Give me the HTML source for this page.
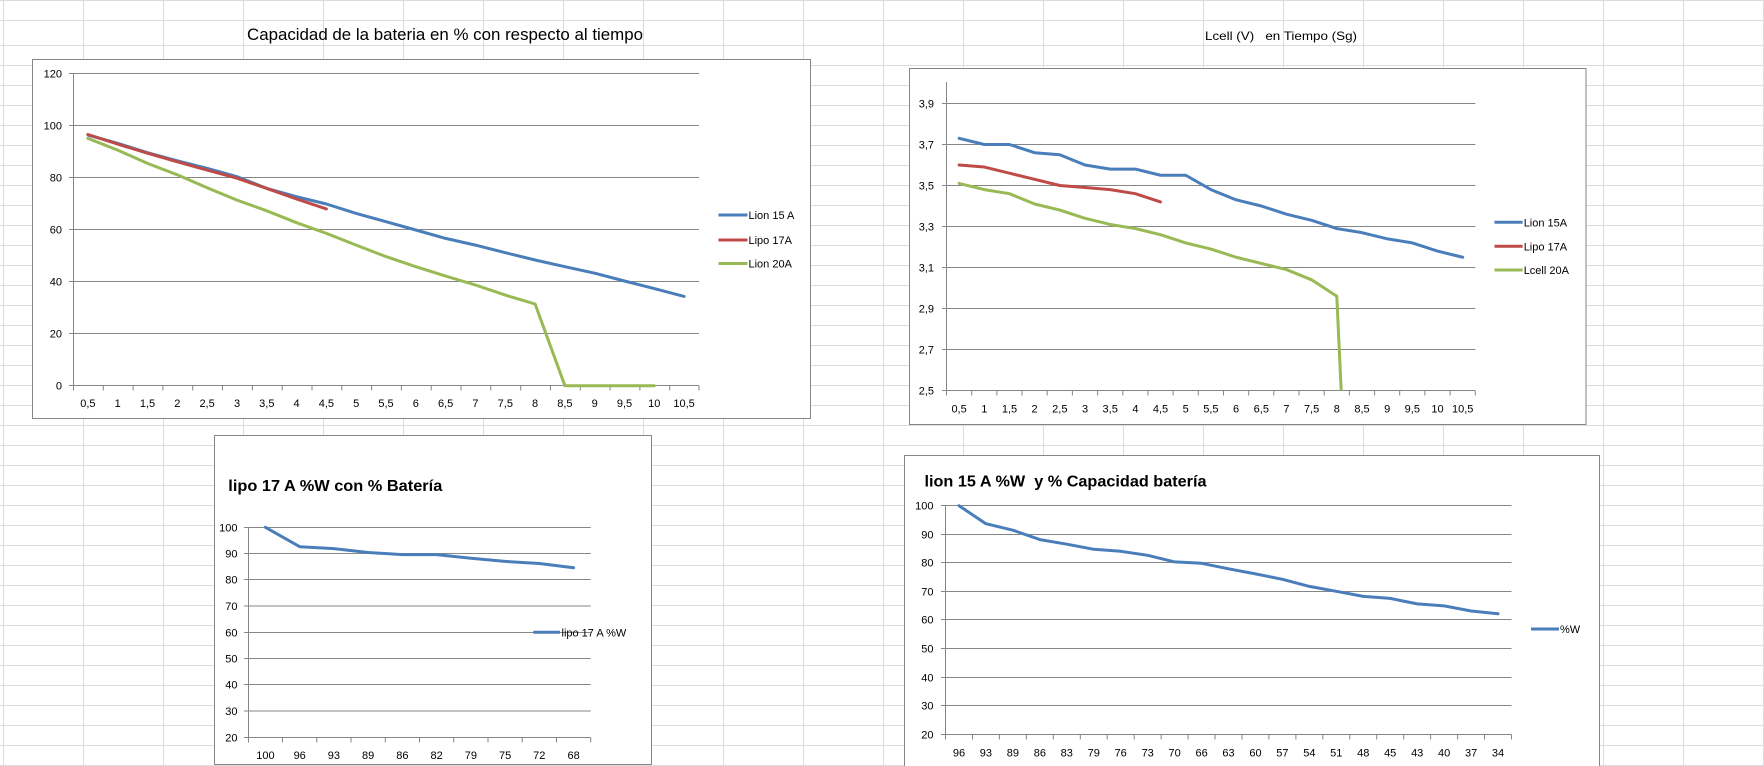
<!DOCTYPE html>
<html><head><meta charset="utf-8"><style>
html,body{margin:0;padding:0;background:#fff;}
svg{display:block;}
text{font-family:"Liberation Sans",Arial,sans-serif;fill:#000;white-space:pre;}
.g{stroke:#dadcdd;stroke-width:1;}
.ax{stroke:#868686;stroke-width:1;fill:none;}
.lb{font-size:11px;}
.s{fill:none;stroke-width:3;stroke-linejoin:round;stroke-linecap:round;}
</style></head><body>
<svg width="1764" height="766" viewBox="0 0 1764 766" xmlns="http://www.w3.org/2000/svg">
<rect width="1764" height="766" fill="#fff"/>
<!-- excel grid -->
<g class="g">
<path d="M3.5 0V766M83.5 0V766M163.5 0V766M243.5 0V766M323.5 0V766M403.5 0V766M483.5 0V766M563.5 0V766M643.5 0V766M723.5 0V766M803.5 0V766M883.5 0V766M963.5 0V766M1043.5 0V766M1123.5 0V766M1203.5 0V766M1283.5 0V766M1363.5 0V766M1443.5 0V766M1523.5 0V766M1603.5 0V766M1683.5 0V766M1763.5 0V766"/>
<path d="M0 0.5H1764M0 20.5H1764M0 45.5H1764M0 65.5H1764M0 85.5H1764M0 105.5H1764M0 125.5H1764M0 145.5H1764M0 165.5H1764M0 185.5H1764M0 205.5H1764M0 225.5H1764M0 245.5H1764M0 265.5H1764M0 285.5H1764M0 305.5H1764M0 325.5H1764M0 345.5H1764M0 365.5H1764M0 385.5H1764M0 405.5H1764M0 425.5H1764M0 445.5H1764M0 465.5H1764M0 485.5H1764M0 505.5H1764M0 525.5H1764M0 545.5H1764M0 565.5H1764M0 585.5H1764M0 605.5H1764M0 625.5H1764M0 645.5H1764M0 665.5H1764M0 685.5H1764M0 705.5H1764M0 725.5H1764M0 745.5H1764M0 765.5H1764"/>
</g>

<!-- titles above charts 1 and 2 -->
<text x="247" y="40" font-size="17" textLength="396" lengthAdjust="spacingAndGlyphs">Capacidad de la bateria en % con respecto al tiempo</text>
<text x="1205" y="40" font-size="12" textLength="152" lengthAdjust="spacingAndGlyphs">Lcell (V)   en Tiempo (Sg)</text>

<!-- ============ CHART 1 ============ -->
<rect x="32.5" y="59.5" width="778" height="359" fill="#fff" stroke="#868686"/>
<g class="ax">
<path d="M69 73.5H699M69 125.5H699M69 177.5H699M69 229.5H699M69 281.5H699M69 333.5H699M69 385.5H699"/>
<path d="M73.5 73.5V385.5"/>
<path d="M73.5 385.5v5M103.3 385.5v5M133.1 385.5v5M162.9 385.5v5M192.7 385.5v5M222.5 385.5v5M252.4 385.5v5M282.2 385.5v5M312 385.5v5M341.8 385.5v5M371.6 385.5v5M401.4 385.5v5M431.2 385.5v5M461 385.5v5M490.8 385.5v5M520.7 385.5v5M550.5 385.5v5M580.3 385.5v5M610.1 385.5v5M639.9 385.5v5M669.7 385.5v5M699 385.5v5"/>
</g>
<g class="lb" text-anchor="end">
<text x="62" y="77.5">120</text><text x="62" y="129.5">100</text><text x="62" y="181.5">80</text><text x="62" y="233.5">60</text><text x="62" y="285.5">40</text><text x="62" y="337.5">20</text><text x="62" y="389.5">0</text>
</g>
<g class="lb" text-anchor="middle">
<text x="87.9" y="407">0,5</text><text x="117.7" y="407">1</text><text x="147.5" y="407">1,5</text><text x="177.3" y="407">2</text><text x="207.1" y="407">2,5</text><text x="237" y="407">3</text><text x="266.8" y="407">3,5</text><text x="296.6" y="407">4</text><text x="326.4" y="407">4,5</text><text x="356.2" y="407">5</text><text x="386" y="407">5,5</text><text x="415.8" y="407">6</text><text x="445.6" y="407">6,5</text><text x="475.4" y="407">7</text><text x="505.3" y="407">7,5</text><text x="535.1" y="407">8</text><text x="564.9" y="407">8,5</text><text x="594.7" y="407">9</text><text x="624.5" y="407">9,5</text><text x="654.3" y="407">10</text><text x="684.1" y="407">10,5</text>
</g>
<polyline class="s" stroke="#98b954" points="87.9,138.4 117.7,150.1 147.5,163.4 177.3,174.8 207.1,187.8 237,200.1 266.8,210.8 296.6,222.7 326.4,233.4 356.2,245.1 386,256.6 415.8,266.7 445.6,276.1 475.4,285 505.3,295.1 535.1,304 564.9,385.7 594.7,385.7 624.5,385.7 654.3,385.7"/>
<polyline class="s" stroke="#4a7ebb" points="87.9,135 117.7,143.3 147.5,152.7 177.3,160.8 207.1,168.3 237,176.7 266.8,188.4 296.6,196.7 326.4,204 356.2,213.4 386,221.7 415.8,230 445.6,238.4 475.4,245.1 505.3,252.7 535.1,260 564.9,266.7 594.7,273.2 624.5,281 654.3,288.6 684.1,296.4"/>
<polyline class="s" stroke="#be4b48" points="87.9,134.5 117.7,144.1 147.5,153.2 177.3,161.8 207.1,170.1 237,178.2 266.8,188.4 296.6,199 326.4,208.9"/>
<!-- legend 1 -->
<path d="M718.5 215H747.5" stroke="#4a7ebb" stroke-width="3"/>
<path d="M718.5 240H747.5" stroke="#be4b48" stroke-width="3"/>
<path d="M718.5 263.5H747.5" stroke="#98b954" stroke-width="3"/>
<g class="lb"><text x="748.5" y="219">Lion 15 A</text><text x="748.5" y="244">Lipo 17A</text><text x="748.5" y="267.5">Lion 20A</text></g>

<!-- ============ CHART 2 ============ -->
<rect x="909.5" y="68.5" width="676.5" height="356" fill="#fff" stroke="#868686"/>
<defs><clipPath id="c2"><rect x="940" y="70" width="540" height="320.5"/></clipPath></defs>
<g class="ax">
<path d="M942 103.5H1475.3M942 144.5H1475.3M942 185.5H1475.3M942 226.5H1475.3M942 267.5H1475.3M942 308.5H1475.3M942 349.5H1475.3M942 390.5H1475.3"/>
<path d="M946.5 82V390.5"/>
<path d="M946.5 390.5v5M971.7 390.5v5M996.9 390.5v5M1022 390.5v5M1047.2 390.5v5M1072.4 390.5v5M1097.6 390.5v5M1122.8 390.5v5M1147.9 390.5v5M1173.1 390.5v5M1198.3 390.5v5M1223.5 390.5v5M1248.7 390.5v5M1273.8 390.5v5M1299 390.5v5M1324.2 390.5v5M1349.4 390.5v5M1374.6 390.5v5M1399.7 390.5v5M1424.9 390.5v5M1450.1 390.5v5M1475.3 390.5v5"/>
</g>
<g class="lb" text-anchor="end">
<text x="934" y="107.5">3,9</text><text x="934" y="148.5">3,7</text><text x="934" y="189.5">3,5</text><text x="934" y="230.5">3,3</text><text x="934" y="271.5">3,1</text><text x="934" y="312.5">2,9</text><text x="934" y="353.5">2,7</text><text x="934" y="394.5">2,5</text>
</g>
<g class="lb" text-anchor="middle">
<text x="959.1" y="412.5">0,5</text><text x="984.3" y="412.5">1</text><text x="1009.5" y="412.5">1,5</text><text x="1034.6" y="412.5">2</text><text x="1059.8" y="412.5">2,5</text><text x="1085" y="412.5">3</text><text x="1110.2" y="412.5">3,5</text><text x="1135.4" y="412.5">4</text><text x="1160.5" y="412.5">4,5</text><text x="1185.7" y="412.5">5</text><text x="1210.9" y="412.5">5,5</text><text x="1236.1" y="412.5">6</text><text x="1261.3" y="412.5">6,5</text><text x="1286.4" y="412.5">7</text><text x="1311.6" y="412.5">7,5</text><text x="1336.8" y="412.5">8</text><text x="1362" y="412.5">8,5</text><text x="1387.2" y="412.5">9</text><text x="1412.3" y="412.5">9,5</text><text x="1437.5" y="412.5">10</text><text x="1462.7" y="412.5">10,5</text>
</g>
<g clip-path="url(#c2)">
<polyline class="s" stroke="#98b954" points="959.1,183.45 984.3,189.6 1009.5,193.7 1034.6,204 1059.8,210.1 1085,218.3 1110.2,224.45 1135.4,228.55 1160.5,234.7 1185.7,242.9 1210.9,249.05 1236.1,257.25 1261.3,263.4 1286.4,269.55 1311.6,279.8 1336.8,296.2 1341.6,400"/>
</g>
<polyline class="s" stroke="#4a7ebb" points="959.1,138.3 984.3,144.5 1009.5,144.5 1034.6,152.7 1059.8,154.75 1085,165 1110.2,169.1 1135.4,169.1 1160.5,175.25 1185.7,175.25 1210.9,189.6 1236.1,199.85 1261.3,206 1286.4,214.2 1311.6,220.35 1336.8,228.55 1362,232.65 1387.2,238.8 1412.3,242.9 1437.5,251.1 1462.7,257.25"/>
<polyline class="s" stroke="#be4b48" points="959.1,165 984.3,167.05 1009.5,173.2 1034.6,179.35 1059.8,185.5 1085,187.55 1110.2,189.6 1135.4,193.7 1160.5,201.9"/>
<path d="M1494.5 222.3H1522.6" stroke="#4a7ebb" stroke-width="3"/>
<path d="M1494.5 246.3H1522.6" stroke="#be4b48" stroke-width="3"/>
<path d="M1494.5 270H1522.6" stroke="#98b954" stroke-width="3"/>
<g class="lb"><text x="1523.7" y="226.3">Lion 15A</text><text x="1523.7" y="250.3">Lipo 17A</text><text x="1523.7" y="274">Lcell 20A</text></g>

<!-- ============ CHART 3 ============ -->
<rect x="214.5" y="435.5" width="437" height="329" fill="#fff" stroke="#868686"/>
<text x="228.3" y="491" font-size="16" font-weight="bold" textLength="214" lengthAdjust="spacingAndGlyphs">lipo 17 A %W con % Batería</text>
<g class="ax">
<path d="M244 527.5H590.7M244 553.5H590.7M244 579.5H590.7M244 606H590.7M244 632.5H590.7M244 658.5H590.7M244 684.5H590.7M244 711H590.7M244 737.5H590.7"/>
<path d="M248.5 527.5V737.5"/>
<path d="M248.5 737.5v5M282.5 737.5v5M316.8 737.5v5M351 737.5v5M385.3 737.5v5M419.5 737.5v5M453.7 737.5v5M488 737.5v5M522.2 737.5v5M556.5 737.5v5M590.7 737.5v5"/>
</g>
<g class="lb" text-anchor="end">
<text x="237.5" y="531.5">100</text><text x="237.5" y="557.5">90</text><text x="237.5" y="583.5">80</text><text x="237.5" y="610">70</text><text x="237.5" y="636.5">60</text><text x="237.5" y="662.5">50</text><text x="237.5" y="688.5">40</text><text x="237.5" y="715">30</text><text x="237.5" y="741.5">20</text>
</g>
<g class="lb" text-anchor="middle">
<text x="265.4" y="759">100</text><text x="299.7" y="759">96</text><text x="333.9" y="759">93</text><text x="368.1" y="759">89</text><text x="402.4" y="759">86</text><text x="436.6" y="759">82</text><text x="470.9" y="759">79</text><text x="505.1" y="759">75</text><text x="539.3" y="759">72</text><text x="573.6" y="759">68</text>
</g>
<polyline class="s" stroke="#4a7ebb" points="265.4,527.3 299.7,546.7 333.9,548.6 368.1,552.5 402.4,554.6 436.6,554.6 470.9,558.3 505.1,561.4 539.3,563.5 573.6,567.7"/>
<path d="M533.3 632.3H560" stroke="#4a7ebb" stroke-width="3"/>
<text class="lb" x="561.5" y="636.3">lipo 17 A %W</text>

<!-- ============ CHART 4 ============ -->
<rect x="904.5" y="455.5" width="695" height="320" fill="#fff" stroke="#868686"/>
<text x="924.5" y="486.7" font-size="16" font-weight="bold" textLength="282" lengthAdjust="spacingAndGlyphs">lion 15 A %W  y % Capacidad batería</text>
<g class="ax">
<path d="M941 505.5H1511.5M941 534.5H1511.5M941 562.5H1511.5M941 591.5H1511.5M941 619.5H1511.5M941 648.5H1511.5M941 677.5H1511.5M941 705.5H1511.5M941 734.5H1511.5"/>
<path d="M945.5 505.5V734.5"/>
<path d="M945.5 734.5v5M972.5 734.5v5M999.4 734.5v5M1026.4 734.5v5M1053.3 734.5v5M1080.3 734.5v5M1107.2 734.5v5M1134.2 734.5v5M1161.1 734.5v5M1188.1 734.5v5M1215 734.5v5M1242 734.5v5M1268.9 734.5v5M1295.9 734.5v5M1322.8 734.5v5M1349.8 734.5v5M1376.7 734.5v5M1403.7 734.5v5M1430.6 734.5v5M1457.6 734.5v5M1484.5 734.5v5M1511.5 734.5v5"/>
</g>
<g class="lb" text-anchor="end">
<text x="933.5" y="509.5">100</text><text x="933.5" y="538.5">90</text><text x="933.5" y="566.5">80</text><text x="933.5" y="595.5">70</text><text x="933.5" y="623.5">60</text><text x="933.5" y="652.5">50</text><text x="933.5" y="681.5">40</text><text x="933.5" y="709.5">30</text><text x="933.5" y="738.5">20</text>
</g>
<g class="lb" text-anchor="middle">
<text x="959" y="756.3">96</text><text x="985.9" y="756.3">93</text><text x="1012.9" y="756.3">89</text><text x="1039.9" y="756.3">86</text><text x="1066.8" y="756.3">83</text><text x="1093.8" y="756.3">79</text><text x="1120.7" y="756.3">76</text><text x="1147.7" y="756.3">73</text><text x="1174.6" y="756.3">70</text><text x="1201.6" y="756.3">66</text><text x="1228.5" y="756.3">63</text><text x="1255.5" y="756.3">60</text><text x="1282.4" y="756.3">57</text><text x="1309.4" y="756.3">54</text><text x="1336.3" y="756.3">51</text><text x="1363.3" y="756.3">48</text><text x="1390.2" y="756.3">45</text><text x="1417.2" y="756.3">43</text><text x="1444.1" y="756.3">40</text><text x="1471.1" y="756.3">37</text><text x="1498" y="756.3">34</text>
</g>
<polyline class="s" stroke="#4a7ebb" points="959,505.7 985.9,523.7 1012.9,530.2 1039.9,539.6 1066.8,544.2 1093.8,549.3 1120.7,551.3 1147.7,555.3 1174.6,561.9 1201.6,563.3 1228.5,568.8 1255.5,573.9 1282.4,579.3 1309.4,586.4 1336.3,591.3 1363.3,596.4 1390.2,598.4 1417.2,603.9 1444.1,605.9 1471.1,611 1498,613.8"/>
<path d="M1531 629H1559" stroke="#4a7ebb" stroke-width="3"/>
<text class="lb" x="1560" y="633">%W</text>
</svg>
</body></html>
